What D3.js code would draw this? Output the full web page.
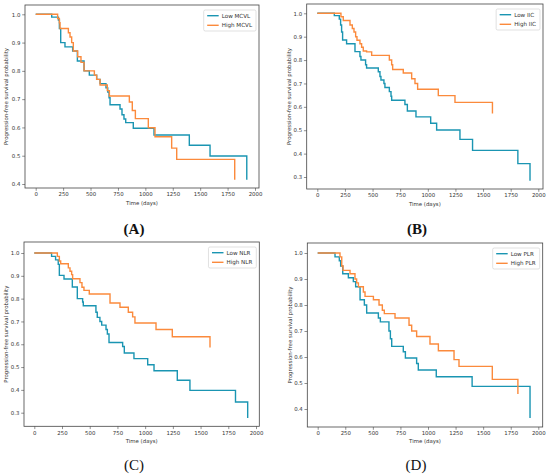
<!DOCTYPE html>
<html>
<head>
  <meta charset="UTF-8">
  <style>
    body { margin: 0; background: #fff; }
    svg { display: block; }
    .tick text { font-family: "DejaVu Sans", sans-serif; font-size: 5.4px; fill: #333; }
    .lab { font-family: "DejaVu Sans", sans-serif; font-size: 5.4px; fill: #333; }
    .leg { font-family: "DejaVu Sans", sans-serif; font-size: 5.6px; fill: #333; }
    .letter { font-family: "Liberation Serif", serif; font-size: 15px; fill: #111; }
  </style>
</head>
<body>
<svg width="550" height="476"></svg>
<script src="https://d3js.org/d3.v7.min.js"></script>
<script>

// x ticks shared by all panels
const timeTicks = [0, 250, 500, 750, 1000, 1250, 1500, 1750, 2000];

// Kaplan-Meier steps: [time (days), survival probability]
const lowMCVL = [[0,1],[146,0.99],[207,0.98],[216,0.95],[228,0.90],[267,0.885],[337,0.87],[380,0.835],
  [441,0.80],[489,0.785],[556,0.77],[587,0.755],[641,0.74],[657,0.725],[669,0.705],[678,0.68],
  [769,0.665],[787,0.645],[805,0.63],[821,0.617],[890,0.597],[1079,0.573],[1401,0.537],[1590,0.499],[1925,0.415]];
const highMCVL = [[0,1],[200,0.985],[216,0.97],[222,0.95],[298,0.935],[313,0.92],[328,0.90],[343,0.87],
  [383,0.85],[413,0.83],[441,0.80],[535,0.785],[556,0.77],[587,0.75],[653,0.73],[672,0.711],
  [854,0.69],[881,0.66],[909,0.631],[1027,0.599],[1088,0.567],[1240,0.527],[1286,0.487],[1815,0.415]];

const lowIIC = [[0,1],[154,0.99],[199,0.975],[211,0.95],[220,0.92],[229,0.886],[265,0.87],[341,0.836],
  [386,0.815],[395,0.80],[437,0.78],[446,0.766],[552,0.75],[567,0.73],[576,0.715],[603,0.70],
  [612,0.683],[652,0.665],[667,0.645],[673,0.628],[793,0.61],[815,0.582],[893,0.557],[1026,0.53],
  [1080,0.501],[1291,0.461],[1405,0.414],[1815,0.357],[1925,0.284]];
const highIIC = [[0,1],[214,0.985],[235,0.969],[296,0.95],[317,0.935],[332,0.92],[347,0.90],[359,0.885],
  [386,0.87],[401,0.855],[416,0.839],[446,0.835],[492,0.82],[652,0.80],[673,0.78],[682,0.76],
  [778,0.745],[854,0.72],[884,0.70],[908,0.675],[1095,0.648],[1246,0.619],[1585,0.572]];

const lowNLR = [[0,1],[156,0.985],[192,0.97],[216,0.95],[226,0.902],[268,0.886],[343,0.851],[388,0.80],
  [436,0.785],[442,0.769],[556,0.74],[568,0.718],[592,0.70],[608,0.684],[647,0.665],[659,0.645],
  [674,0.608],[797,0.59],[812,0.562],[899,0.537],[1023,0.51],[1080,0.484],[1290,0.442],[1404,0.398],
  [1815,0.347],[1925,0.277]];
const highNLR = [[0,1],[208,0.985],[226,0.965],[238,0.953],[307,0.935],[322,0.92],[337,0.905],[346,0.887],
  [412,0.87],[430,0.85],[448,0.836],[496,0.82],[683,0.781],[773,0.762],[848,0.74],[887,0.72],
  [908,0.693],[1098,0.665],[1245,0.633],[1585,0.586]];

const lowPLR = [[0,1],[157,0.985],[196,0.97],[208,0.95],[227,0.92],[278,0.905],[323,0.89],[344,0.87],
  [384,0.82],[423,0.80],[444,0.769],[550,0.75],[568,0.735],[646,0.70],[659,0.67],[671,0.641],
  [776,0.62],[795,0.596],[897,0.575],[912,0.55],[1075,0.524],[1400,0.487],[1925,0.365]];
const highPLR = [[0,1],[202,0.985],[218,0.95],[230,0.933],[293,0.92],[338,0.90],[353,0.885],[369,0.87],
  [414,0.85],[429,0.833],[505,0.82],[556,0.80],[586,0.78],[604,0.767],[701,0.75],[828,0.722],
  [852,0.70],[897,0.679],[1018,0.65],[1094,0.624],[1236,0.59],[1281,0.564],[1583,0.514],[1815,0.458]];

const yTicksA = [0.4, 0.5, 0.6, 0.7, 0.8, 0.9, 1.0];
const yTicksB = [0.3, 0.4, 0.5, 0.6, 0.7, 0.8, 0.9, 1.0];

const lowColor = "#1a95b2", highColor = "#fb8a3c";

// layout of the four panels (page pixels)
const panels = [
  { letter: "(A)", bold: true, name: "MCVL", low: lowMCVL, high: highMCVL, yTicks: yTicksA,
    box: [25, 5, 259, 188], xr: [35.7, 255], yr: [184, 14.3], yd: [0.4, 1.0],
    ylabX: 6, xlabY: 205, letterX: 134, letterY: 234 },
  { letter: "(B)", bold: true, name: "IIC", low: lowIIC, high: highIIC, yTicks: yTicksB,
    box: [306.7, 4, 543, 189], xr: [317.3, 538.3], yr: [177, 13.3], yd: [0.3, 1.0],
    ylabX: 288.5, xlabY: 206, letterX: 417, letterY: 234 },
  { letter: "(C)", bold: false, name: "NLR", low: lowNLR, high: highNLR, yTicks: yTicksB,
    box: [24, 242, 259.3, 426.3], xr: [34.3, 256], yr: [412.7, 253], yd: [0.3, 1.0],
    ylabX: 6, xlabY: 443, letterX: 134, letterY: 470 },
  { letter: "(D)", bold: false, name: "PLR", low: lowPLR, high: highPLR, yTicks: yTicksA,
    box: [307.3, 243, 542.7, 427], xr: [317.7, 538.3], yr: [409, 253], yd: [0.4, 1.0],
    ylabX: 290, xlabY: 443, letterX: 416, letterY: 470 }
];

let svg = d3.select("svg");

panels.forEach(p => {
  let [bx0, by0, bx1, by1] = p.box;
  let x = d3.scaleLinear().domain([0, 2000]).range(p.xr);
  let y = d3.scaleLinear().domain(p.yd).range(p.yr);
  let g = svg.append("g");

  // axes
  g.append("g")
    .attr("transform", "translate(0," + by1 + ")")
    .call(d3.axisBottom(x).tickValues(timeTicks).tickFormat(d3.format("d")).tickSize(2.8).tickPadding(1.6))
    .call(a => a.select(".domain").remove());
  g.append("g")
    .attr("transform", "translate(" + bx0 + ",0)")
    .call(d3.axisLeft(y).tickValues(p.yTicks).tickFormat(d3.format(".1f")).tickSize(2.8).tickPadding(1.8))
    .call(a => a.select(".domain").remove());
  g.selectAll(".tick line").attr("stroke", "#444").attr("stroke-width", 0.6);

  // curves
  let line = d3.line().x(d => x(d[0])).y(d => y(d[1])).curve(d3.curveStepAfter);
  [[p.low, lowColor], [p.high, highColor]].forEach(([data, col]) => {
    g.append("path")
      .attr("d", line(data))
      .attr("fill", "none")
      .attr("stroke", col)
      .attr("stroke-width", 1.4);
  });

  // frame
  g.append("rect")
    .attr("x", bx0).attr("y", by0)
    .attr("width", bx1 - bx0).attr("height", by1 - by0)
    .attr("fill", "none").attr("stroke", "#444").attr("stroke-width", 0.8);

  // labels
  g.append("text").attr("class", "lab")
    .attr("x", (bx0 + bx1) / 2).attr("y", p.xlabY)
    .attr("text-anchor", "middle").text("Time (days)");
  g.append("text").attr("class", "lab")
    .attr("transform", "translate(" + (p.ylabX + 2) + "," + ((by0 + by1) / 2) + ") rotate(-90)")
    .attr("text-anchor", "middle")
    .text("Progression-free survival probability");
  g.append("text").attr("class", "letter")
    .attr("x", p.letterX).attr("y", p.letterY)
    .attr("text-anchor", "middle")
    .style("font-weight", p.bold ? "bold" : "normal")
    .text(p.letter);

  // legend
  let items = [["Low " + p.name, lowColor], ["High " + p.name, highColor]];
  let leg = g.append("g");
  let texts = leg.selectAll("text").data(items).enter().append("text")
    .attr("class", "leg")
    .attr("x", 18)
    .attr("y", (d, i) => 7.7 + i * 9.6)
    .text(d => d[0]);
  let tw = d3.max(texts.nodes(), n => n.getComputedTextLength());
  let lw = 18 + tw + 4;
  leg.selectAll("line").data(items).enter().append("line")
    .attr("x1", 3.5).attr("x2", 15)
    .attr("y1", (d, i) => 5.7 + i * 9.6).attr("y2", (d, i) => 5.7 + i * 9.6)
    .attr("stroke", d => d[1]).attr("stroke-width", 1.4);
  leg.insert("rect", ":first-child")
    .attr("width", lw).attr("height", 21)
    .attr("rx", 1.5)
    .attr("fill", "#fff").attr("stroke", "#ccc").attr("stroke-width", 0.6);
  leg.attr("transform", "translate(" + (bx1 - 3 - lw) + "," + (by0 + 5) + ")");
});
</script>
</body>
</html>
